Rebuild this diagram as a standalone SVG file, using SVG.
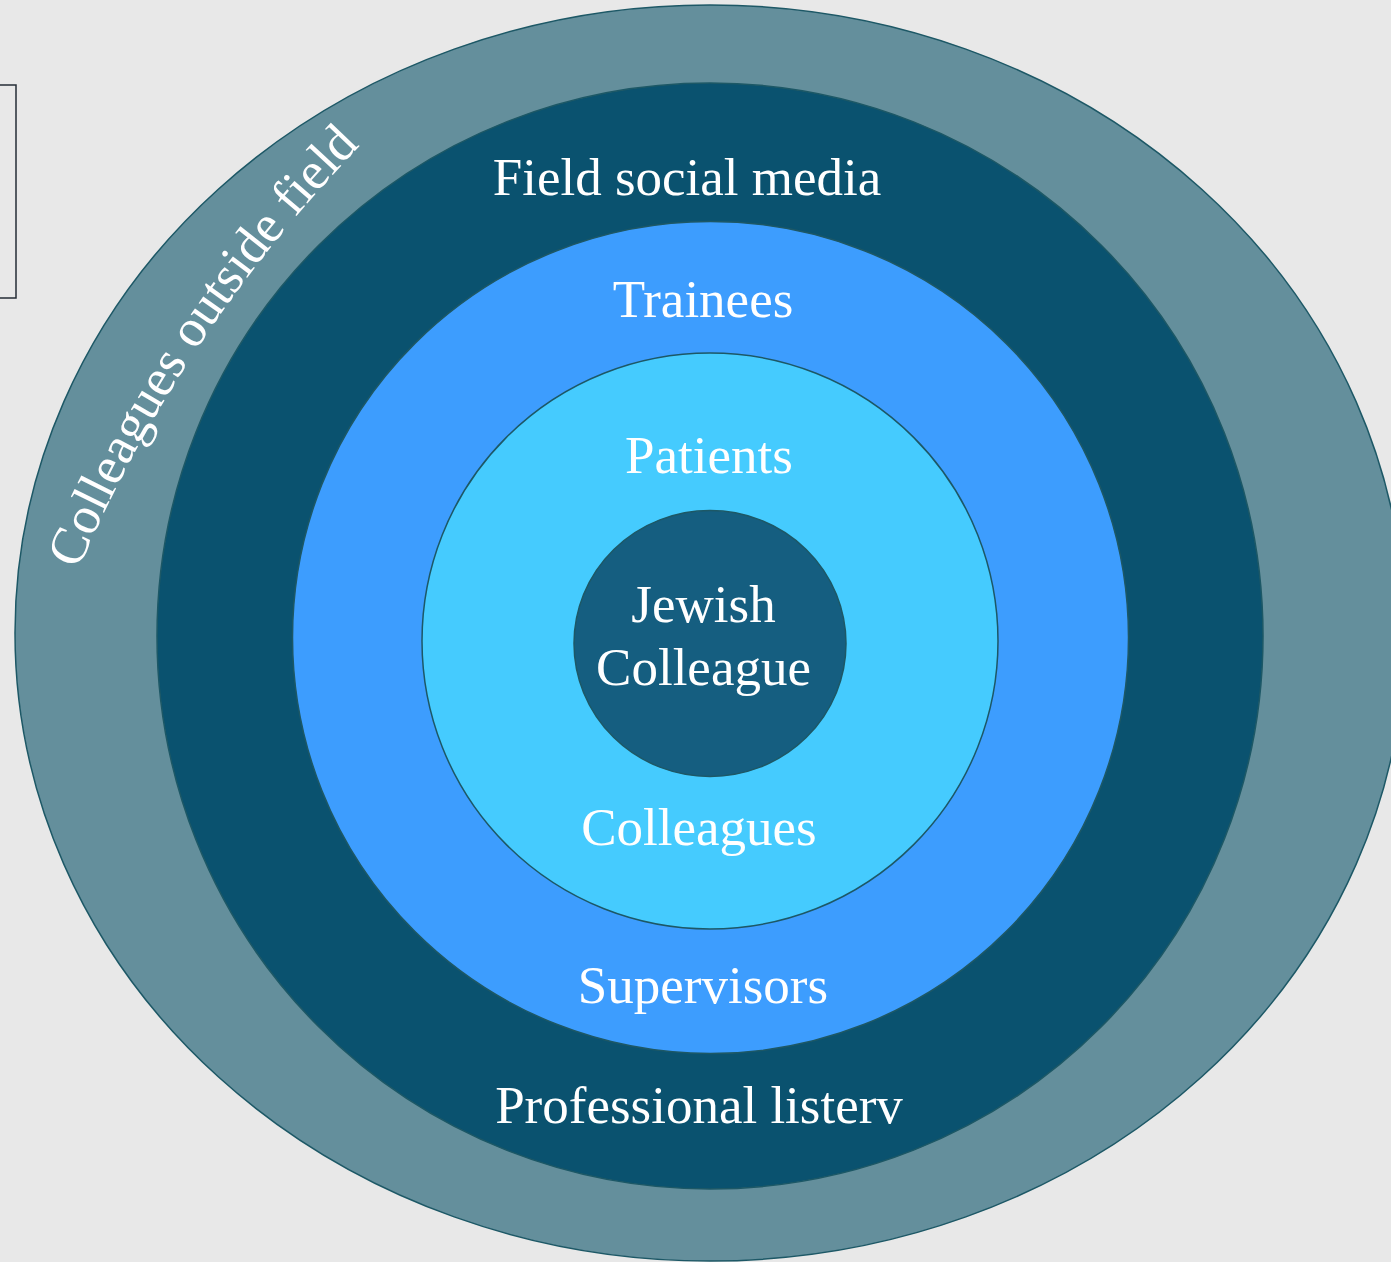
<svg xmlns="http://www.w3.org/2000/svg" width="1391" height="1262" viewBox="0 0 1391 1262">
  <style>
    .ring { stroke: #1d5866; stroke-width: 1.5; }
    .lbl { font-family: "Liberation Serif", "Times New Roman", serif; font-size: 53px; fill: #ffffff; text-anchor: middle; }
  </style>
  <defs>
    <path id="arcPath" d="M 78 570 A 1400 1400 0 0 1 356 150" fill="none"/>
  </defs>
  <rect x="0" y="0" width="1391" height="1262" fill="#e8e8e8"/>
  <g id="frame">
    <rect x="-2" y="85" width="18" height="213" fill="none" stroke="#242d36" stroke-width="1.5"/>
  </g>
  <g id="ring-outside-field">
    <ellipse class="ring" cx="710" cy="633" rx="695" ry="628" fill="#648f9c" stroke-width="2"/>
    <text class="lbl" font-size="51" style="text-anchor:start"><textPath href="#arcPath" startOffset="0">Colleagues outside field</textPath></text>
  </g>
  <g id="ring-field">
    <circle class="ring" cx="710" cy="636" r="553" fill="#0a526f"/>
    <text class="lbl" x="687" y="195">Field social media</text>
    <text class="lbl" x="699" y="1123">Professional listerv</text>
  </g>
  <g id="ring-trainees">
    <ellipse class="ring" cx="710.5" cy="637.5" rx="418" ry="416" fill="#3d9dfe"/>
    <text class="lbl" x="703" y="317">Trainees</text>
    <text class="lbl" x="703" y="1003">Supervisors</text>
  </g>
  <g id="ring-patients">
    <circle class="ring" cx="710" cy="641" r="288" fill="#45cbfe"/>
    <text class="lbl" x="709" y="473">Patients</text>
    <text class="lbl" x="699" y="845">Colleagues</text>
  </g>
  <g id="center-jewish-colleague">
    <ellipse class="ring" cx="710" cy="643.5" rx="136" ry="133" fill="#155e80"/>
    <text class="lbl" x="703.5" y="622">Jewish</text>
    <text class="lbl" x="703.5" y="685">Colleague</text>
  </g>
  <g id="connectors"/>
</svg>
